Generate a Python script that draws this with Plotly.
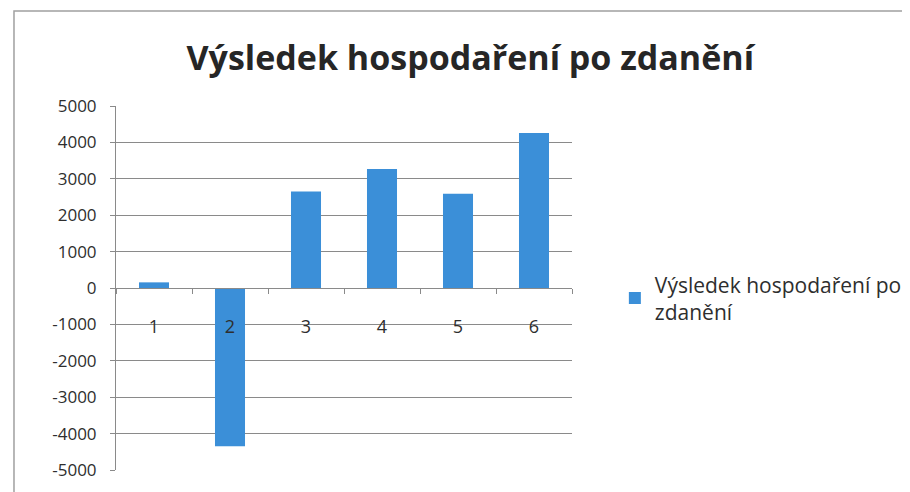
import plotly.graph_objects as go

categories = ["1", "2", "3", "4", "5", "6"]
values = [155, -4350, 2650, 3270, 2590, 4260]
series_name = "Výsledek hospodaření po zdanění"
legend_label = "Výsledek hospodaření po<br>zdanění"
title_text = "Výsledek hospodaření po zdanění"
y_ticks = [-5000, -4000, -3000, -2000, -1000, 0, 1000, 2000, 3000, 4000, 5000]
y_tick_labels = [str(v) for v in y_ticks]

FONT = "Open Sans"
TXT = "#2e2e2e"
GRID = "#8a8a8a"

fig = go.Figure()
fig.add_trace(go.Bar(
    x=categories, y=values, name=legend_label,
    marker=dict(color="#3b8fd8", line=dict(width=0)),
    showlegend=True,
))

fig.update_layout(
    width=910, height=492,
    paper_bgcolor="white", plot_bgcolor="white",
    margin=dict(l=108, r=346, t=98, b=30, autoexpand=False),
    bargap=0.605,
    title=dict(text=f"<b>{title_text}</b>", x=0.508, xanchor="center",
               y=0.899, yanchor="middle",
               font=dict(family=FONT, size=34, color="#262626")),
    font=dict(family=FONT, color=TXT),
    showlegend=True,
    legend=dict(x=1.094, xanchor="left", y=0.472, yanchor="middle",
                font=dict(family=FONT, size=21, color=TXT),
                bgcolor="rgba(0,0,0,0)", itemwidth=30, traceorder="normal"),
    xaxis=dict(
        type="category", anchor="free", position=0.5,
        showline=True, linecolor=GRID, linewidth=1,
        ticks="outside", ticklen=5, tickcolor=GRID, tickson="boundaries",
        showgrid=False, zeroline=False, ticklabelstandoff=22,
        tickfont=dict(family=FONT, size=18, color=TXT),
    ),
    yaxis=dict(
        range=[-5000, 5000], tickvals=y_ticks, ticktext=y_tick_labels,
        showline=True, linecolor=GRID, linewidth=1,
        ticks="outside", ticklen=5, tickcolor=GRID,
        showgrid=True, gridcolor=GRID, gridwidth=1,
        zeroline=False, ticklabelstandoff=10,
        tickfont=dict(family=FONT, size=17, color=TXT),
    ),
)

# Chart frame border
fig.add_shape(type="rect", xref="paper", yref="paper",
              x0=-0.2237, x1=1.730, y0=-0.12, y1=1.261,
              line=dict(color="#a0a0a0", width=1.5), layer="below")

fig.write_html("out.html")
